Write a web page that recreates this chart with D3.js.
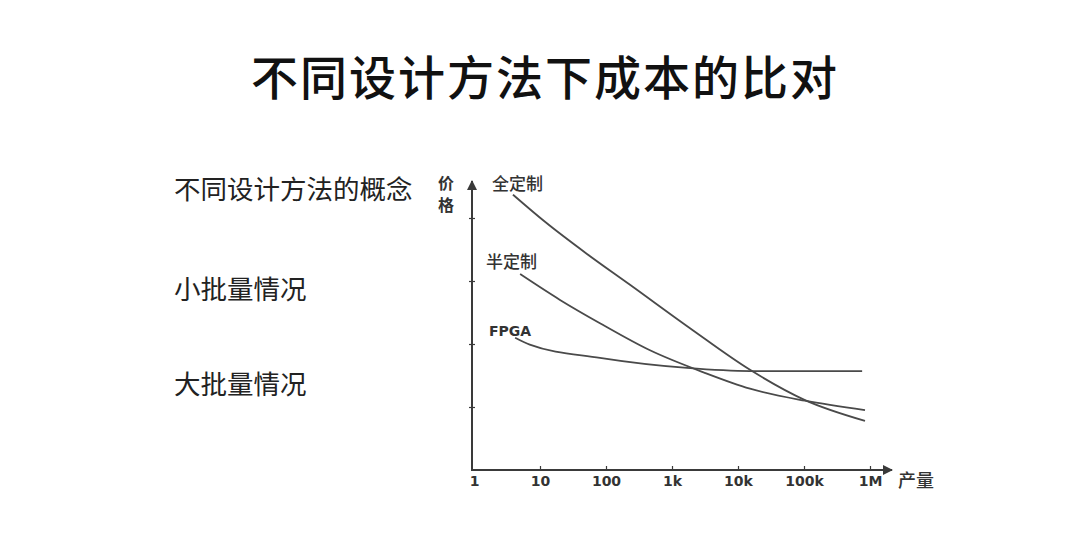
<!DOCTYPE html>
<html><head><meta charset="utf-8">
<script src="https://cdn.jsdelivr.net/npm/d3@7"></script>
<style>
body{margin:0;background:#fff;}
svg{display:block;}
</style></head>
<body>
<svg id="c" width="1068" height="548"></svg>
<script>
const xTicks = [1, 10, 100, 1000, 10000, 100000, 1000000];
const xTickLabels = ["1", "10", "100", "1k", "10k", "100k", "1M"];
const yTicks = [1, 2, 3, 4];
const seriesNames = ["全定制", "半定制", "FPGA"];
const fullCustomX = [3.9, 11.9, 51.5, 231, 1875, 15200, 103500, 840000];
const fullCustomY = [4.37, 3.94, 3.43, 2.94, 2.25, 1.59, 1.11, 0.78];
const semiCustomX = [5.0, 20.1, 81, 464, 3000, 15200, 103500, 840000];
const semiCustomY = [3.11, 2.70, 2.33, 1.90, 1.55, 1.29, 1.10, 0.95];
const fpgaX = [4.2, 7.0, 81, 1690, 15200, 760000];
const fpgaY = [2.10, 1.99, 1.78, 1.62, 1.57, 1.57];
const sideNotes = ["不同设计方法的概念", "小批量情况", "大批量情况"];
const title = "不同设计方法下成本的比对";

const svg = d3.select("#c");
const x = d3.scaleLog().domain([1, 1e6]).range([474, 870]);
const y = d3.scaleLinear().domain([0, 4]).range([470, 218]);
const axisColor = "#3a3a3a";
const lineColor = "#4a4a4a";

// Title
svg.append("text").attr("x", 545).attr("y", 95).attr("text-anchor", "middle")
  .attr("font-family", "'Noto Sans CJK SC'").attr("font-size", 47).attr("font-weight", 500)
  .attr("fill", "#111").attr("letter-spacing", 2).text(title);

// Side notes
const noteY = [199, 299, 394];
svg.selectAll(".note").data(sideNotes).join("text").attr("class", "note")
  .attr("x", 174).attr("y", (d, i) => noteY[i])
  .attr("font-family", "'Noto Sans CJK SC'").attr("font-size", 26.5)
  .attr("fill", "#222").text(d => d);

// Arrow marker
const defs = svg.append("defs");
defs.append("marker").attr("id", "arr").attr("viewBox", "0 0 10 10").attr("refX", 9).attr("refY", 5)
  .attr("markerWidth", 5).attr("markerHeight", 5).attr("orient", "auto-start-reverse")
  .append("path").attr("d", "M0,0 L10,5 L0,10 Z").attr("fill", axisColor);

// X axis
const xAxis = d3.axisBottom(x).tickValues(xTicks).tickSize(0).tickFormat((d, i) => xTickLabels[i]);
const gx = svg.append("g").attr("transform", `translate(0,${y(0)})`).call(xAxis);
gx.select(".domain").remove();
gx.selectAll("text").attr("dy", 0).attr("y", 16)
  .attr("font-family", "'DejaVu Sans'").attr("font-weight", "bold").attr("font-size", 14).attr("fill", "#333");
gx.selectAll(".tick").filter(d => d > 1).append("line").attr("y1", 0).attr("y2", -4)
  .attr("stroke", axisColor).attr("stroke-width", 1.2);
svg.append("line").attr("x1", 472).attr("x2", 892).attr("y1", y(0)).attr("y2", y(0))
  .attr("stroke", axisColor).attr("stroke-width", 2).attr("marker-end", "url(#arr)");

// Y axis
const yAxis = d3.axisLeft(y).tickValues(yTicks).tickSize(4).tickFormat("");
const gy = svg.append("g").attr("transform", `translate(472,0)`).call(yAxis);
gy.select(".domain").remove();
gy.selectAll(".tick line").attr("x2", -3).attr("x1", 3).attr("stroke", axisColor).attr("stroke-width", 1.2);
svg.append("line").attr("x1", 472).attr("x2", 472).attr("y1", y(0) + 1).attr("y2", 181)
  .attr("stroke", axisColor).attr("stroke-width", 2).attr("marker-end", "url(#arr)");

// Axis titles
svg.append("text").attr("x", 446).attr("y", 175)
  .attr("writing-mode", "vertical-rl").attr("letter-spacing", 6)
  .attr("font-family", "'Noto Sans CJK SC'").attr("font-size", 16).attr("font-weight", 700).attr("fill", "#333").text("价格");
svg.append("text").attr("x", 898).attr("y", 487)
  .attr("font-family", "'Noto Sans CJK SC'").attr("font-size", 18).attr("font-weight", 500).attr("fill", "#333").text("产量");

// Curves
const series = [
  {name: seriesNames[0], xs: fullCustomX, ys: fullCustomY},
  {name: seriesNames[1], xs: semiCustomX, ys: semiCustomY},
  {name: seriesNames[2], xs: fpgaX, ys: fpgaY}
];
const line = d3.line().x(d => x(d[0])).y(d => y(d[1])).curve(d3.curveMonotoneX);
svg.selectAll(".curve").data(series).join("path").attr("class", "curve")
  .attr("d", s => line(s.xs.map((v, i) => [v, s.ys[i]])))
  .attr("fill", "none").attr("stroke", lineColor).attr("stroke-width", 1.8);

// Curve labels
const labelPos = [[492, 190], [486, 268], [489, 336]];
svg.selectAll(".clabel").data(series).join("text").attr("class", "clabel")
  .attr("x", (d, i) => labelPos[i][0]).attr("y", (d, i) => labelPos[i][1])
  .attr("font-family", (d, i) => i === 2 ? "'DejaVu Sans'" : "'Noto Sans CJK SC'")
  .attr("font-size", (d, i) => i === 2 ? 14 : 17).attr("font-weight", (d, i) => i === 2 ? 700 : 500)
  .attr("fill", "#333").text(d => d.name);
</script>
</body></html>
